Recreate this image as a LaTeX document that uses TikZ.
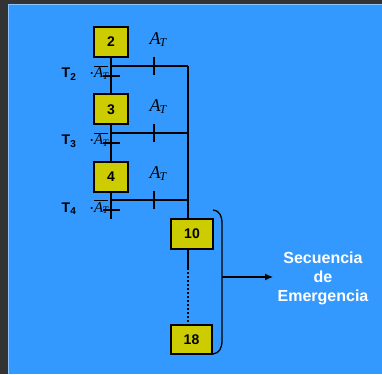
\documentclass[tikz,border=0pt]{standalone}
\usepackage{fontspec}
\setmainfont{Liberation Sans}
\newfontfamily\serfont{Liberation Serif}
\usetikzlibrary{arrows.meta}
\definecolor{bgblue}{HTML}{3399FF}
\definecolor{edgeblue}{HTML}{8CC4FF}
\definecolor{darkframe}{HTML}{333333}
\definecolor{stepfill}{HTML}{CCCC00}
% receptivity A_T, plain and negated
\newcommand{\ATsym}[2]{{\serfont\fontsize{#1}{#1}\selectfont\itshape A\kern-0.05em\raisebox{-0.25ex}{\fontsize{#2}{#2}\selectfont T}}}
\newcommand{\ATbar}{$\overline{\hbox{\ATsym{15}{10}}}$}
\begin{document}
\begin{tikzpicture}[x=1pt,y=-1pt,
  stepbox/.style={draw=black,line width=2pt,fill=stepfill,inner sep=0pt,
    font=\fontsize{14}{14}\selectfont\bfseries},
  wire/.style={line width=2pt,black},
  tname/.style={anchor=base west,inner sep=0pt,font=\fontsize{14}{14}\selectfont\bfseries},
  tcond/.style={anchor=base west,inner sep=0pt},
  recept/.style={inner sep=0pt}]
\useasboundingbox (0,0) rectangle (382,374);
% backdrop
\fill[darkframe] (0,0) rectangle (382,374);
\fill[bgblue] (8,4) rectangle (382,374);
\draw[edgeblue,line width=1.2pt] (8.6,374) -- (8.6,4.6) -- (382,4.6);

% steps
\node[stepbox,minimum width=34pt,minimum height=30pt] (s2) at (111,42) {2};
\node[stepbox,minimum width=34pt,minimum height=30pt] (s3) at (111,109.5) {3};
\node[stepbox,minimum width=34pt,minimum height=30pt] (s4) at (111,176.5) {4};
\node[stepbox,minimum width=42pt,minimum height=30pt] (s10) at (192,234) {10};
\node[stepbox,minimum width=41pt,minimum height=29pt] (s18) at (191.5,339.5) {18};

% main sequence
\coordinate (end4) at (111,219);
\draw[wire] (s2.south) -- (s3.north);
\draw[wire] (s3.south) -- (s4.north);
\draw[wire] (s4.south) -- (end4);

% transitions on the main line, with their conditions
\foreach \y/\n in {76/2,143/3,210/4}{
  \draw[wire] (103,\y) -- (120,\y);
  \node[tname] (tn\n) at (61.5,\y+2) {T\raisebox{-0.3ex}{\fontsize{10}{10}\selectfont\n}};
  \node[tcond] (tc\n) at (90,\y+2) {{\fontsize{12}{12}\selectfont\bfseries·}\ATbar};
}

% emergency branches
\coordinate (busTop) at (188,66);
\foreach \y in {66,133,200}{
  \draw[wire] (111,\y) -- (188,\y);
  \draw[wire] (154,\y-9) -- (154,\y+9);
}
\draw[wire] (busTop) -- (s10.north -| busTop);

% receptivities
\node[recept] (r2) at (158,40) {\ATsym{18}{12}};
\node[recept] (r3) at (158,107) {\ATsym{18}{12}};
\node[recept] (r4) at (158,174) {\ATsym{18}{12}};

% emergency sequence 10 ... 18
\coordinate (midA) at (188,268);
\draw[wire] (s10.south -| busTop) -- (midA);
\draw[line width=2pt,dotted] (midA) -- (s18.north -| busTop);

% bracket and arrow
\draw[line width=1.3pt] (213,210) .. controls (220,211) and (222,216) .. (222,224)
  -- (222,340) .. controls (222,349) and (219,353) .. (213,354);
\coordinate (bmid) at (222,277);
\node[text=white,align=center,font=\fontsize{16}{19}\selectfont\bfseries] (emer) at (323,278)
  {Secuencia\\de\\Emergencia};
\coordinate (arrEnd) at (273,277);
\draw[line width=1.2pt,-{Latex[length=8pt,width=7pt]}] (bmid) -- (arrEnd);
\end{tikzpicture}
\end{document}
